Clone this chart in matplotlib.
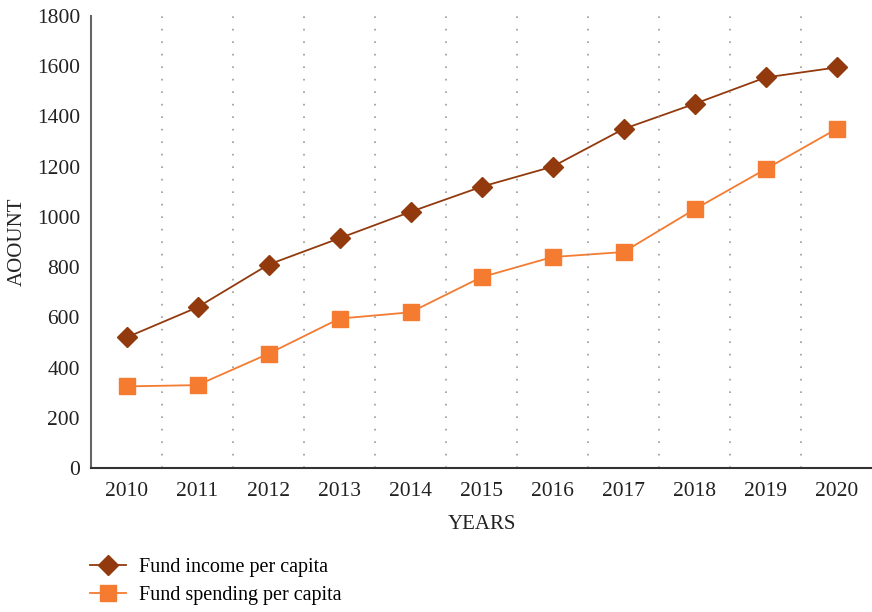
import matplotlib.pyplot as plt

years = ['2010', '2011', '2012', '2013', '2014', '2015',
         '2016', '2017', '2018', '2019', '2020']
income = [520, 640, 810, 915, 1020, 1120, 1200, 1350, 1450, 1555, 1595]
spending = [325, 330, 455, 595, 620, 760, 840, 860, 1030, 1190, 1350]


def main():
    plt.rcParams['font.family'] = ['Liberation Serif', 'DejaVu Serif']
    fig = plt.figure(figsize=(8.72, 6.12), dpi=100)
    ax = fig.add_axes([0.1044, 0.2353, 0.8956, 0.7386])

    x = list(range(len(years)))
    ax.plot(x, income, color='#923A0E', lw=1.3, marker='D', ms=10,
            label='Fund income per capita')
    ax.plot(x, spending, color='#F47B30', lw=1.3, marker='s', ms=11,
            label='Fund spending per capita')

    # dotted separators between categories
    for b in range(len(years) - 1):
        ax.axvline(b + 0.5, color='#999999', lw=1.2, ls=(0, (1, 6.5)))

    ax.set_xlim(-0.5, len(years) - 0.5)
    ax.set_ylim(0, 1800)
    ax.set_yticks(range(0, 1801, 200))
    ax.set_xticks(x)
    ax.set_xticklabels(years)
    ax.tick_params(length=0, labelsize=15.5, colors='#222222')
    ax.tick_params(axis='y', pad=8)
    ax.tick_params(axis='x', pad=10)

    for side in ['top', 'right']:
        ax.spines[side].set_visible(False)
    ax.spines['left'].set_color('#666666')
    ax.spines['bottom'].set_color('#333333')
    ax.spines['left'].set_linewidth(1.5)
    ax.spines['bottom'].set_linewidth(1.5)

    ax.set_xlabel('YEARS', fontsize=15, color='#222222', labelpad=10)
    ax.set_ylabel('AOOUNT', fontsize=15, color='#222222')
    ax.yaxis.set_label_coords(-0.082, 0.5)

    fig.legend(loc='upper left', bbox_to_anchor=(0.103, 0.088),
               frameon=False, fontsize=14.5, handlelength=1.8,
               handletextpad=0.65, labelspacing=0.45,
               borderaxespad=0, borderpad=0)

    fig.savefig('out.png', dpi=100)


if __name__ == "__main__":
    main()
